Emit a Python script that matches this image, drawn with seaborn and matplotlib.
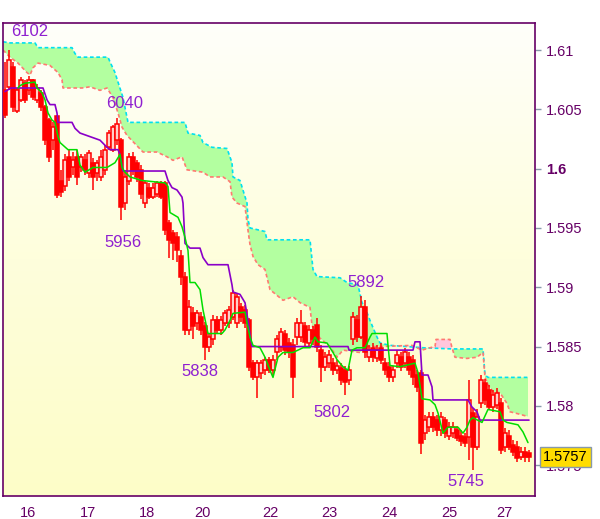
import numpy as np
import matplotlib
matplotlib.use("Agg")
import matplotlib.pyplot as plt
from matplotlib.colors import LinearSegmentedColormap
import seaborn as sns

# ---------------- data ----------------
opens = [1.6066, 1.6069, 1.6086, 1.6049, 1.6058, 1.6072, 1.6066, 1.6075, 1.6058, 1.6064,
         1.6052, 1.6041, 1.6024, 1.6044, 1.5990, 1.5985, 1.6010, 1.6001, 1.6010, 1.6001,
         1.6007, 1.5996, 1.6005, 1.5996, 1.5993, 1.5999, 1.6018, 1.6016, 1.6024, 1.6024,
         1.5971, 1.5990, 1.6010, 1.6005, 1.5999, 1.5971, 1.5984, 1.5976, 1.5979, 1.5988,
         1.5988, 1.5954, 1.5946, 1.5942, 1.5926, 1.5909, 1.5864, 1.5878, 1.5870, 1.5875,
         1.5867, 1.5850, 1.5856, 1.5872, 1.5864, 1.5870, 1.5870, 1.5875, 1.5870, 1.5883,
         1.5881, 1.5872, 1.5836, 1.5824, 1.5828, 1.5830, 1.5839, 1.5830, 1.5845, 1.5850,
         1.5861, 1.5853, 1.5851, 1.5858, 1.5858, 1.5867, 1.5853, 1.5864, 1.5868, 1.5847,
         1.5833, 1.5836, 1.5836, 1.5830, 1.5832, 1.5830, 1.5822, 1.5856, 1.5872, 1.5858,
         1.5883, 1.5841, 1.5849, 1.5840, 1.5849, 1.5836, 1.5833, 1.5824, 1.5836, 1.5841,
         1.5836, 1.5841, 1.5839, 1.5826, 1.5828, 1.5777, 1.5782, 1.5791, 1.5788, 1.5780,
         1.5788, 1.5775, 1.5777, 1.5780, 1.5775, 1.5774, 1.5774, 1.5794, 1.5765, 1.5802,
         1.5819, 1.5813, 1.5799, 1.5801, 1.5802, 1.5765, 1.5775, 1.5767, 1.5765, 1.5757,
         1.5761, 1.5760]
closes = [1.6045, 1.6092, 1.6052, 1.6066, 1.6075, 1.6058, 1.6075, 1.6060, 1.6068, 1.6052,
          1.6024, 1.6010, 1.6035, 1.5978, 1.5980, 1.6007, 1.5993, 1.6007, 1.5993, 1.6010,
          1.5999, 1.6013, 1.5993, 1.6005, 1.6010, 1.6016, 1.6030, 1.6035, 1.6038, 1.5968,
          1.5993, 1.6010, 1.5999, 1.5993, 1.5979, 1.5988, 1.5976, 1.5984, 1.5988, 1.5976,
          1.5948, 1.5940, 1.5937, 1.5931, 1.5909, 1.5864, 1.5883, 1.5867, 1.5878, 1.5864,
          1.5850, 1.5858, 1.5872, 1.5864, 1.5872, 1.5878, 1.5881, 1.5895, 1.5892, 1.5875,
          1.5870, 1.5833, 1.5824, 1.5836, 1.5836, 1.5839, 1.5830, 1.5839, 1.5856, 1.5862,
          1.5847, 1.5845, 1.5824, 1.5870, 1.5870, 1.5854, 1.5864, 1.5856, 1.5850, 1.5833,
          1.5841, 1.5843, 1.5830, 1.5834, 1.5822, 1.5820, 1.5830, 1.5875, 1.5858, 1.5883,
          1.5845, 1.5847, 1.5841, 1.5847, 1.5839, 1.5830, 1.5824, 1.5830, 1.5843, 1.5833,
          1.5845, 1.5830, 1.5824, 1.5816, 1.5769, 1.5788, 1.5791, 1.5782, 1.5780, 1.5791,
          1.5777, 1.5782, 1.5782, 1.5773, 1.5770, 1.5769, 1.5805, 1.5765, 1.5791, 1.5822,
          1.5805, 1.5799, 1.5809, 1.5811, 1.5763, 1.5777, 1.5765, 1.5761, 1.5756, 1.5761,
          1.5757, 1.5757]
highs = [1.6090, 1.6100, 1.6090, 1.6068, 1.6077, 1.6075, 1.6078, 1.6076, 1.6071, 1.6066,
         1.6054, 1.6043, 1.6039, 1.6045, 1.5999, 1.6012, 1.6016, 1.6014, 1.6016, 1.6012,
         1.6012, 1.6016, 1.6009, 1.6007, 1.6016, 1.6020, 1.6033, 1.6037, 1.6043, 1.6026,
         1.5999, 1.6013, 1.6014, 1.6007, 1.6003, 1.5990, 1.5988, 1.5988, 1.5990, 1.5990,
         1.5990, 1.5957, 1.5948, 1.5947, 1.5931, 1.5913, 1.5889, 1.5883, 1.5881, 1.5879,
         1.5871, 1.5861, 1.5877, 1.5876, 1.5876, 1.5881, 1.5884, 1.5898, 1.5895, 1.5887,
         1.5885, 1.5874, 1.5839, 1.5839, 1.5839, 1.5841, 1.5841, 1.5843, 1.5860, 1.5866,
         1.5864, 1.5857, 1.5856, 1.5874, 1.5881, 1.5871, 1.5868, 1.5867, 1.5874, 1.5851,
         1.5845, 1.5847, 1.5840, 1.5839, 1.5836, 1.5834, 1.5834, 1.5879, 1.5877, 1.5893,
         1.5889, 1.5851, 1.5853, 1.5851, 1.5853, 1.5840, 1.5837, 1.5834, 1.5847, 1.5845,
         1.5849, 1.5845, 1.5843, 1.5830, 1.5830, 1.5792, 1.5795, 1.5795, 1.5792, 1.5795,
         1.5791, 1.5786, 1.5786, 1.5783, 1.5780, 1.5777, 1.5822, 1.5798, 1.5797, 1.5826,
         1.5823, 1.5818, 1.5813, 1.5815, 1.5807, 1.5781, 1.5780, 1.5771, 1.5770, 1.5765,
         1.5765, 1.5763]
lows = [1.6043, 1.6066, 1.6048, 1.6047, 1.6056, 1.6055, 1.6062, 1.6058, 1.6055, 1.6049,
        1.6020, 1.6006, 1.6016, 1.5975, 1.5976, 1.5981, 1.5990, 1.5995, 1.5986, 1.5997,
        1.5995, 1.5992, 1.5982, 1.5990, 1.5990, 1.5995, 1.6016, 1.6014, 1.6020, 1.5957,
        1.5965, 1.5986, 1.5995, 1.5989, 1.5974, 1.5967, 1.5974, 1.5974, 1.5976, 1.5974,
        1.5944, 1.5925, 1.5923, 1.5921, 1.5902, 1.5860, 1.5860, 1.5856, 1.5864, 1.5860,
        1.5839, 1.5845, 1.5851, 1.5861, 1.5860, 1.5867, 1.5866, 1.5872, 1.5866, 1.5871,
        1.5866, 1.5829, 1.5822, 1.5807, 1.5823, 1.5826, 1.5828, 1.5826, 1.5839, 1.5845,
        1.5843, 1.5840, 1.5807, 1.5851, 1.5854, 1.5850, 1.5849, 1.5851, 1.5845, 1.5820,
        1.5829, 1.5832, 1.5826, 1.5827, 1.5818, 1.5809, 1.5818, 1.5851, 1.5854, 1.5856,
        1.5840, 1.5837, 1.5837, 1.5837, 1.5835, 1.5826, 1.5820, 1.5820, 1.5832, 1.5829,
        1.5832, 1.5826, 1.5818, 1.5812, 1.5759, 1.5771, 1.5778, 1.5778, 1.5775, 1.5775,
        1.5773, 1.5771, 1.5773, 1.5770, 1.5766, 1.5765, 1.5754, 1.5746, 1.5763, 1.5798,
        1.5801, 1.5797, 1.5795, 1.5797, 1.5759, 1.5761, 1.5763, 1.5758, 1.5753, 1.5754,
        1.5753, 1.5753]

# Kijun-sen (purple)
kijun_x = [0, 1.5, 9.5, 10.5, 11.25, 12.5, 13, 13.25, 16.75, 17.5, 18.75, 21.25, 23.75, 25.5,
           26.25, 28.25, 28.75, 29.5, 40, 40.75, 41.75, 43, 44.25, 44.5, 45, 46.25, 48.75, 49.5,
           50.75, 55.75, 56.75, 57, 58.75, 60, 60.75, 61.25, 61.75, 85.75, 86, 102, 102.5,
           103.75, 104.25, 105.75, 106.75, 107, 115.75, 116.75, 118, 118.75, 131]
kijun_y = [1.6065, 1.6068, 1.6068, 1.6058, 1.6054, 1.6054, 1.6047, 1.6039, 1.6039, 1.6034,
           1.6030, 1.6027, 1.6024, 1.6018, 1.6016, 1.6016, 1.6012, 1.5998, 1.5998, 1.5990,
           1.5984, 1.5982, 1.5976, 1.5971, 1.5937, 1.5933, 1.5933, 1.5925, 1.5919, 1.5919,
           1.5902, 1.5896, 1.5894, 1.5887, 1.5872, 1.5860, 1.5850, 1.5850, 1.5847, 1.5847,
           1.5854, 1.5854, 1.5826, 1.5826, 1.5816, 1.5805, 1.5805, 1.5799, 1.5795, 1.5788,
           1.5788]

# Tenkan-sen (green)
tenkan_x = [3.25, 3.75, 5, 7.5, 8, 9.25, 10, 10.75, 11.75, 12.5, 13.25, 13.75, 15.75, 18,
            18.75, 20, 22, 25.5, 27.5, 28.75, 29.25, 30, 31.25, 34.25, 40, 40.75, 41.25, 43.25,
            44.25, 45, 45.75, 46.25, 47.5, 48.75, 49.5, 50.75, 54.25, 55, 56.25, 57, 60, 60.5,
            61.25, 62, 63.75, 65, 66.25, 67, 68.25, 69.5, 72, 74.5, 76.25, 77.5, 78.25, 80.5,
            82, 83, 84.5, 85.75, 86.75, 88, 90, 91.25, 91.75, 95.5, 95.75, 96.25, 98.75, 102.5,
            103.25, 104.25, 106.25, 107.5, 108.25, 109.5, 110.75, 113.25, 114.5, 115.5, 116.25,
            117, 119.25, 120.75, 123.75, 124.5, 125.5, 128.25, 129.5, 130.75]
tenkan_y = [1.6068, 1.6070, 1.6072, 1.6073, 1.6068, 1.6064, 1.6058, 1.6047, 1.6041, 1.6039,
            1.6027, 1.6022, 1.6016, 1.6016, 1.6003, 1.5997, 1.6001, 1.6001, 1.6005, 1.6012,
            1.6001, 1.5997, 1.5993, 1.5990, 1.5988, 1.5985, 1.5963, 1.5959, 1.5951, 1.5942,
            1.5931, 1.5904, 1.5904, 1.5898, 1.5881, 1.5861, 1.5861, 1.5864, 1.5872, 1.5878,
            1.5879, 1.5870, 1.5858, 1.5851, 1.5849, 1.5841, 1.5830, 1.5824, 1.5841, 1.5845,
            1.5845, 1.5849, 1.5849, 1.5858, 1.5854, 1.5853, 1.5845, 1.5839, 1.5833, 1.5830,
            1.5847, 1.5849, 1.5849, 1.5858, 1.5861, 1.5861, 1.5851, 1.5834, 1.5833, 1.5836,
            1.5828, 1.5806, 1.5805, 1.5801, 1.5794, 1.5777, 1.5782, 1.5782, 1.5777, 1.5782,
            1.5788, 1.5790, 1.5786, 1.5797, 1.5795, 1.5788, 1.5786, 1.5784, 1.5778, 1.5769]

# Senkou span A (cyan) and B (salmon)
span_a_x = [-0.5, 1.25, 7.5, 8.25, 16.75, 17.5, 18.25, 25.75, 26.25, 27.5, 28.25, 29.5, 30.75,
            45, 45.75, 48.75, 49.5, 51.75, 55.5, 56.75, 57, 58.75, 60.5, 60.75, 61.25, 65,
            65.5, 76.25, 77, 78, 83.75, 85.5, 88.25, 89.25, 90, 91.25, 93, 93.75, 96.25, 104.5,
            111.75, 119.5, 120, 120.75, 130.75]
span_a_y = [1.6107, 1.6106, 1.6106, 1.6102, 1.6102, 1.6097, 1.6094, 1.6094, 1.6090, 1.6081,
            1.6073, 1.6060, 1.6039, 1.6039, 1.6030, 1.6028, 1.6022, 1.6018, 1.6017, 1.6005,
            1.5993, 1.5990, 1.5971, 1.5957, 1.5950, 1.5947, 1.5940, 1.5940, 1.5915, 1.5909,
            1.5908, 1.5904, 1.5902, 1.5887, 1.5883, 1.5872, 1.5858, 1.5853, 1.5851, 1.5849,
            1.5848, 1.5848, 1.5826, 1.5824, 1.5824]
span_b_x = [-0.5, 1.25, 3.25, 5.5, 6.25, 7, 8.25, 11.25, 13.25, 14.25, 14.5, 19.25, 21.25,
            23.75, 25.5, 27, 28.25, 29.25, 30.5, 34.5, 38, 40.5, 42, 44.25, 45.5, 49.5, 51.25,
            54.5, 56.25, 56.75, 58, 60, 60.75, 61.25, 62, 63.25, 65, 66.25, 69.5, 72, 73.75,
            76.25, 76.75, 78.75, 81.25, 83, 84.5, 88.75, 90.5, 93.75, 101.75, 104.25, 106.25,
            107.5, 107.75, 111.25, 111.75, 112.5, 115.5, 118, 119.5, 120, 120.75, 122, 123.75,
            125.5, 126.25, 127.5, 130.75]
span_b_y = [1.6100, 1.6094, 1.6089, 1.6081, 1.6079, 1.6085, 1.6089, 1.6087, 1.6081, 1.6075,
            1.6068, 1.6068, 1.6069, 1.6066, 1.6068, 1.6060, 1.6047, 1.6035, 1.6028, 1.6014,
            1.6014, 1.6010, 1.6007, 1.6010, 1.5999, 1.5997, 1.5993, 1.5993, 1.5989, 1.5976,
            1.5971, 1.5968, 1.5948, 1.5936, 1.5926, 1.5919, 1.5915, 1.5898, 1.5889, 1.5892,
            1.5887, 1.5883, 1.5868, 1.5857, 1.5850, 1.5841, 1.5847, 1.5845, 1.5850, 1.5850,
            1.5851, 1.5847, 1.5849, 1.5850, 1.5856, 1.5856, 1.5849, 1.5841, 1.5840, 1.5841,
            1.5845, 1.5824, 1.5818, 1.5812, 1.5811, 1.5802, 1.5795, 1.5794, 1.5791]

# extreme-value annotations: (label, bar position, price)
ann_labels = ["6102", "6040", "5956", "5892", "5838", "5802", "5745"]
ann_x = [6.25, 30, 29.6, 90.25, 48.75, 81.75, 115.25]
ann_y = [1.6116, 1.6055, 1.5938, 1.5904, 1.5829, 1.5794, 1.5736]

tick_labels = ["16", "17", "18", "20", "22", "23", "24", "25", "27"]
tick_pos = [5.8, 20.8, 35.6, 49.3, 66.25, 81, 96, 111.1, 124.8]
y_ticks = [1.575, 1.58, 1.585, 1.59, 1.595, 1.6, 1.605, 1.61]
y_tick_labels = ["1.575", "1.58", "1.585", "1.59", "1.595", "1.6", "1.605", "1.61"]
last_price = 1.5757

# ---------------- style ----------------
sns.set_style("white")
plt.rcParams["font.family"] = ["Liberation Sans", "DejaVu Sans"]

AXC = "#660066"
fig = plt.figure(figsize=(6.0, 5.19), dpi=100)
ax = fig.add_axes([3 / 600, 23 / 519, 532 / 600, 473 / 519])

XMIN, XMAX = -0.5, 132.5
YMIN, YMAX = 1.57240, 1.61228

# background gradient
cmap = LinearSegmentedColormap.from_list("bg", ["#fffffa", "#fefedc", "#fdfdc8"])
ax.imshow(np.linspace(0, 1, 256).reshape(-1, 1), cmap=cmap, aspect="auto",
          extent=[XMIN, XMAX, YMIN, YMAX], zorder=0, interpolation="bilinear")

# cloud
g = np.linspace(min(span_a_x[0], span_b_x[0]), max(span_a_x[-1], span_b_x[-1]), 3000)
a_line = np.interp(g, span_a_x, span_a_y)
b_line = np.interp(g, span_b_x, span_b_y)
ax.fill_between(g, a_line, b_line, where=a_line >= b_line, interpolate=True,
                color="#b3ffa0", lw=0, zorder=1)
ax.fill_between(g, a_line, b_line, where=a_line < b_line, interpolate=True,
                color="#ffc6dc", lw=0, zorder=1)
ax.plot(span_a_x, span_a_y, color="#00e0f0", lw=1.2, ls=(0, (2.2, 1.6)), zorder=2)
ax.plot(span_b_x, span_b_y, color="#ff7a70", lw=1.2, ls=(0, (2.2, 1.6)), zorder=2)

# candles
idx = np.arange(len(closes))
o = np.array(opens); c = np.array(closes); h = np.array(highs); l = np.array(lows)
ax.vlines(idx, l, h, color="#ff0000", lw=1.1, zorder=3)
bottoms = np.minimum(o, c)
heights = np.maximum(np.abs(c - o), 0.00005)
up = c >= o
ax.bar(idx[up], heights[up], bottom=bottoms[up], width=0.85, facecolor="#ffd0c8",
       edgecolor="#ff0000", linewidth=1.1, zorder=4)
ax.bar(idx[~up], heights[~up], bottom=bottoms[~up], width=0.85, facecolor="#ff0000",
       edgecolor="#ff0000", linewidth=1.1, zorder=4)

# Tenkan / Kijun lines via seaborn
sns.lineplot(x=kijun_x, y=kijun_y, ax=ax, color="#8a00c8", linewidth=1.2,
             sort=False, estimator=None, zorder=5)
sns.lineplot(x=tenkan_x, y=tenkan_y, ax=ax, color="#00dd00", linewidth=1.1,
             sort=False, estimator=None, zorder=6)

# annotations
for lab, xx, yy in zip(ann_labels, ann_x, ann_y):
    ax.text(xx, yy, lab, color="#8f20d0", fontsize=12, ha="center", va="center", zorder=7)

# axes
ax.set_xlim(XMIN, XMAX)
ax.set_ylim(YMIN, YMAX)
ax.set_xticks(tick_pos)
ax.set_xticklabels(tick_labels)
ax.yaxis.tick_right()
ax.set_yticks(y_ticks)
ax.set_yticklabels(y_tick_labels)
for t in ax.get_yticklabels():
    if t.get_text() == "1.6":
        t.set_fontweight("bold")
ax.tick_params(axis="both", colors="#8899aa", labelcolor=AXC, labelsize=10.5,
               length=4, width=1, direction="out")
ax.tick_params(axis="y", pad=4)
ax.tick_params(axis="x", pad=3)
for s in ax.spines.values():
    s.set_color(AXC)
    s.set_linewidth(1.2)
    s.set_visible(True)
ax.set_xlabel("")
ax.set_ylabel("")
ax.grid(False)

# last price tag
ax.annotate(f"{last_price:.4f}", xy=(1.0, last_price), xycoords=("axes fraction", "data"),
            xytext=(6, 0), textcoords="offset points", ha="left", va="center",
            fontsize=10.5, color="black", zorder=10, annotation_clip=False,
            bbox=dict(boxstyle="square,pad=0.2", fc="#ffdd00", ec="#8899aa", lw=1))

fig.savefig("out.png", dpi=100, facecolor="white")
